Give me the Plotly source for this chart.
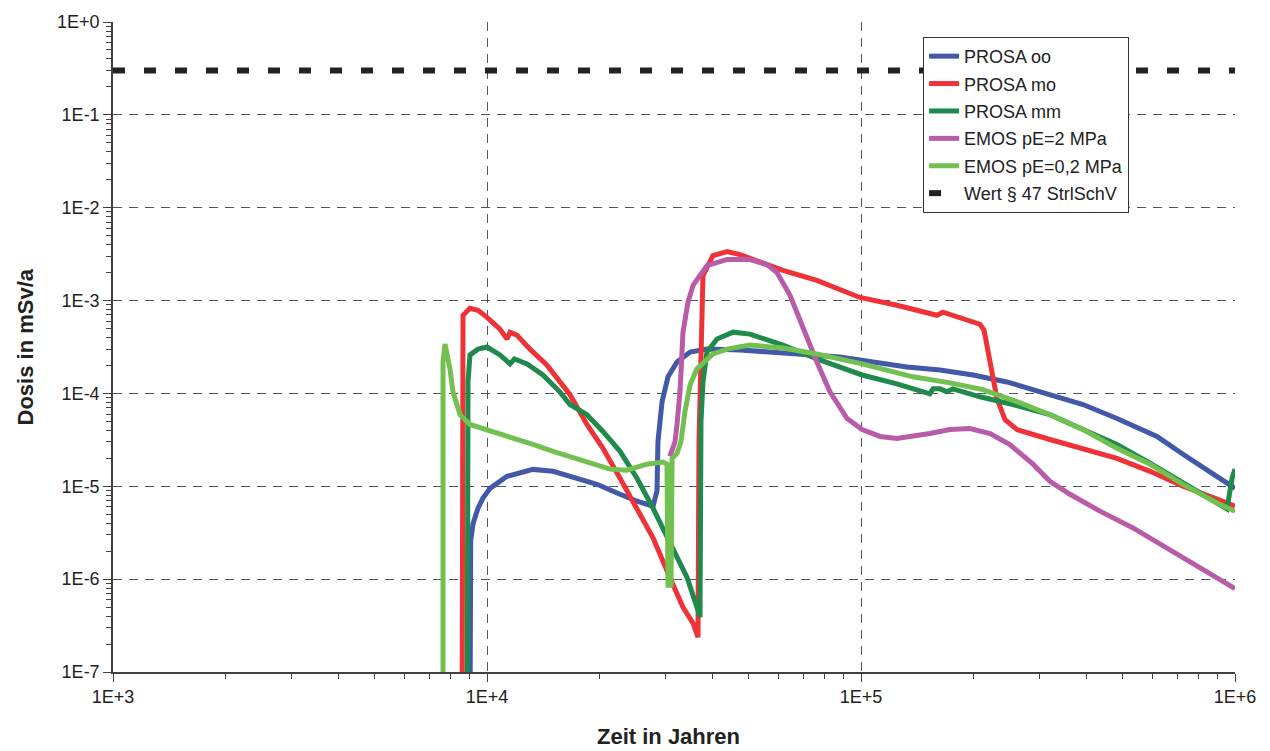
import plotly.graph_objects as go

# ---------------- data ----------------
prosa_oo_t = [9000, 9045, 9175, 9460, 9757, 10190, 11310, 13270, 15020, 16670, 19680, 22680, 25180, 27790,
              28480, 28650, 29380, 30480, 32210, 34920, 38730, 47490, 58210, 71750, 87900,
              107700, 132700, 162600, 199300, 245500, 301000, 392300, 483500, 618500, 726000,
              857000, 1000000]
prosa_oo_d = [1e-8, 2.6e-6, 3.94e-6, 5.8e-6, 7.46e-6, 9.5e-6, 1.28e-5, 1.52e-5, 1.45e-5, 1.28e-5, 1.05e-5, 8.2e-6, 6.9e-6, 6.1e-6,
              8.9e-6, 3.04e-5, 8.15e-5, 1.51e-4, 2.18e-4, 2.79e-4, 3.0e-4, 2.94e-4, 2.79e-4, 2.6e-4, 2.47e-4,
              2.18e-4, 1.93e-4, 1.79e-4, 1.58e-4, 1.33e-4, 1.04e-4, 7.6e-5, 5.37e-5, 3.44e-5, 2.21e-5,
              1.45e-5, 9.5e-6]

prosa_mo_t = [8575, 8628, 9005, 9460, 10000, 10830, 11310, 11520, 12020, 13030, 14450, 15660, 16670,
              18500, 20420, 22680, 25180, 27790, 30830, 33420, 35560, 36660,
              36880, 37340, 37800, 40180, 43850, 47490, 53700, 61860, 76200, 99300, 124700,
              152800, 159600, 165600, 184000, 208000, 213300, 221300, 231000, 242800, 261300,
              320000, 392300, 483500, 592700, 726000, 895800, 1000000]
prosa_mo_d = [1e-8, 6.95e-4, 8.26e-4, 7.85e-4, 6.6e-4, 4.92e-4, 3.85e-4, 4.57e-4, 4.25e-4, 3.0e-4, 2.03e-4, 1.33e-4, 9.7e-5,
              4.63e-5, 2.56e-5, 1.22e-5, 5.8e-6, 2.79e-6, 1.04e-6, 4.97e-7, 3.35e-7, 2.37e-7,
              3.04e-5, 4.57e-4, 1.86e-3, 3.05e-3, 3.37e-3, 3.12e-3, 2.57e-3, 2.11e-3, 1.65e-3, 1.08e-3, 8.9e-4,
              7.1e-4, 6.95e-4, 7.5e-4, 6.6e-4, 5.56e-4, 4.8e-4, 2.03e-4, 8.8e-5, 5.2e-5, 4.08e-5,
              3.19e-5, 2.56e-5, 2.0e-5, 1.45e-5, 1.0e-5, 7.3e-6, 6.1e-6]

prosa_mm_t = [8842, 8897, 9005, 9460, 10000, 10830, 11520, 11840, 12800, 14110, 15660, 16670, 18500,
              20420, 22680, 25180, 27790, 30830, 34270, 36430, 37110, 37340, 37800, 38730, 41210,
              45510, 50470, 61860, 76200, 100700, 124700, 152800, 155800, 162600, 169700, 176100,
              208000, 254700, 320000, 392300, 483500, 592700, 726000, 873000, 952000, 982000, 1000000]
prosa_mm_d = [1e-8, 1.33e-4, 2.6e-4, 3.0e-4, 3.16e-4, 2.6e-4, 2.08e-4, 2.35e-4, 2.08e-4, 1.58e-4, 1.04e-4, 7.6e-5, 5.9e-5,
              3.9e-5, 2.38e-5, 1.22e-5, 5.8e-6, 2.4e-6, 1.04e-6, 4.97e-7, 3.9e-7, 5.0e-5, 1.33e-4, 2.79e-4, 3.85e-4,
              4.57e-4, 4.35e-4, 3.32e-4, 2.35e-4, 1.58e-4, 1.27e-4, 9.9e-5, 1.12e-4, 1.12e-4, 1.04e-4, 1.12e-4,
              9.2e-5, 7.6e-5, 5.9e-5, 4.08e-5, 2.82e-5, 1.77e-5, 1.08e-5, 6.9e-6, 5.7e-6, 1.22e-5, 1.53e-5]

emos_2_t = [30830, 31830, 32210, 32810, 33420, 34460, 35560, 38730, 43850, 50470, 56100, 59600, 64600,
            70000, 76200, 82600, 91800, 100700, 112500, 124700, 137700, 152800, 172900, 195600,
            221300, 250000, 288300, 320000, 362000, 435400, 533700, 657900, 805400, 1000000]
emos_2_d = [2.1e-5, 3.04e-5, 4.63e-5, 1.04e-4, 4.57e-4, 9.6e-4, 1.46e-3, 2.38e-3, 2.77e-3, 2.77e-3, 2.44e-3, 2.01e-3, 1.14e-3,
            4.92e-4, 2.18e-4, 1.04e-4, 5.36e-5, 4.08e-5, 3.44e-5, 3.27e-5, 3.44e-5, 3.7e-5, 4.08e-5, 4.19e-5,
            3.7e-5, 2.82e-5, 1.73e-5, 1.13e-5, 8.2e-6, 5.4e-6, 3.56e-6, 2.18e-6, 1.33e-6, 7.9e-7]

emos_02_t = [7628, 7628, 7722, 7960, 8110, 8470, 9005, 10000, 11310, 13270, 15020, 16670, 18850, 21330,
             23640, 26790, 29570, 30290, 30480, 31050, 31250, 32210, 33020, 33830, 34920, 36430, 40180,
             43850, 50470, 61860, 76200, 100700, 137700, 172900, 211900, 261300, 320000, 392300,
             483500, 592700, 726000, 895800, 1000000]
emos_02_d = [1e-8, 2.18e-4, 3.4e-4, 1.84e-4, 1.04e-4, 5.9e-5, 4.63e-5, 4.08e-5, 3.44e-5, 2.82e-5, 2.38e-5, 2.1e-5, 1.77e-5, 1.53e-5,
             1.49e-5, 1.73e-5, 1.82e-5, 1.73e-5, 8.6e-7, 8.6e-7, 2.0e-5, 2.26e-5, 3.04e-5, 6.4e-5, 1.24e-4, 1.84e-4, 2.66e-4,
             3.0e-4, 3.32e-4, 3.08e-4, 2.66e-4, 2.08e-4, 1.51e-4, 1.3e-4, 1.1e-4, 8.15e-5, 5.9e-5, 4.08e-5,
             2.56e-5, 1.73e-5, 1.05e-5, 6.6e-6, 5.4e-6]

limit_t = [1000, 1000000]
limit_d = [0.3, 0.3]

x_tickvals = [1e3, 1e4, 1e5, 1e6]
x_ticktext = ["1E+3", "1E+4", "1E+5", "1E+6"]
y_tickvals = [1e0, 1e-1, 1e-2, 1e-3, 1e-4, 1e-5, 1e-6, 1e-7]
y_ticktext = ["1E+0", "1E-1", "1E-2", "1E-3", "1E-4", "1E-5", "1E-6", "1E-7"]

series = [
    ("PROSA oo", prosa_oo_t, prosa_oo_d, "#4159A8"),
    ("PROSA mo", prosa_mo_t, prosa_mo_d, "#EE3237"),
    ("PROSA mm", prosa_mm_t, prosa_mm_d, "#1F8A4C"),
    ("EMOS pE=2 MPa", emos_2_t, emos_2_d, "#B95CA8"),
    ("EMOS pE=0,2 MPa", emos_02_t, emos_02_d, "#72C050"),
]

FONT = "Liberation Sans, Arial, sans-serif"

fig = go.Figure()
for i, (name, t, d, col) in enumerate(series):
    fig.add_trace(go.Scatter(x=t, y=d, mode="lines", name=name,
                             line=dict(color=col, width=5),
                             legendgroup=f"g{i}"))
fig.add_trace(go.Scatter(x=limit_t, y=limit_d, mode="lines", name="Wert § 47 StrlSchV",
                         line=dict(color="#222222", width=6, dash="12px,19px"),
                         legendgroup="g5"))

axis_common = dict(
    type="log", showline=True, linecolor="#404040", linewidth=1.5,
    ticks="outside", ticklen=8, tickcolor="#404040", tickwidth=1,
    showgrid=True, gridcolor="#555555", gridwidth=1, griddash="9px,7px",
    zeroline=False, tickfont=dict(family=FONT, size=18, color="#222222"),
    minor=dict(ticks="outside", ticklen=5, tickcolor="#404040", dtick="D1", showgrid=False),
    tickmode="array",
)
fig.update_xaxes(range=[3, 6], tickvals=x_tickvals, ticktext=x_ticktext, **axis_common)
fig.update_yaxes(range=[-7, 0], tickvals=y_tickvals, ticktext=y_ticktext, **axis_common)

fig.update_layout(
    width=1270, height=751,
    margin=dict(l=113, r=35, t=16, b=79),
    plot_bgcolor="white", paper_bgcolor="white",
    font=dict(family=FONT, color="#222222"),
    showlegend=True,
    legend=dict(x=0.722, y=0.977, xanchor="left", yanchor="top",
                bgcolor="white", bordercolor="#333333", borderwidth=1,
                font=dict(family=FONT, size=18, color="#222222"),
                tracegroupgap=1),
    annotations=[
        dict(text="<b>Dosis in mSv/a</b>", xref="paper", yref="paper", x=-0.078, y=0.5,
             textangle=-90, showarrow=False, xanchor="center", yanchor="middle",
             font=dict(family=FONT, size=22, color="#222222")),
        dict(text="<b>Zeit in Jahren</b>", xref="paper", yref="paper", x=0.495, y=-0.099,
             showarrow=False, xanchor="center", yanchor="middle",
             font=dict(family=FONT, size=22, color="#222222")),
    ],
)

fig.write_html("out.html")
